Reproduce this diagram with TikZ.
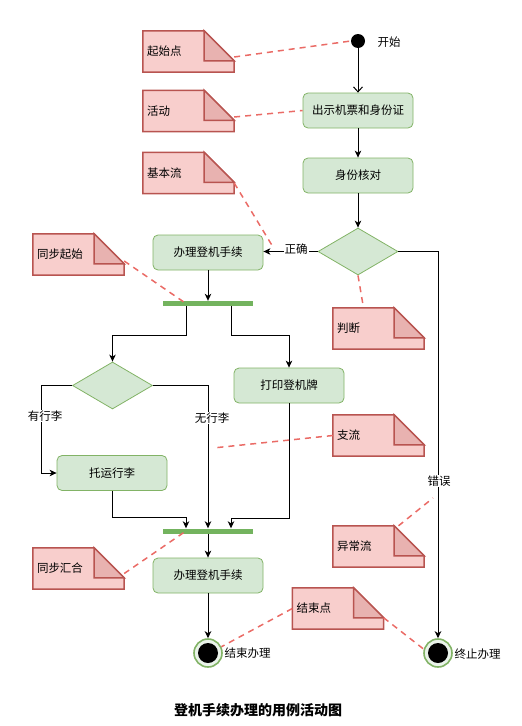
\documentclass[tikz,border=0pt]{standalone}
\usepackage{fontspec}
\setmainfont{Noto Sans CJK SC}
\usetikzlibrary{shapes.geometric,arrows.meta,backgrounds,calc}
\definecolor{gfill}{HTML}{D5E8D4}
\definecolor{gline}{HTML}{82B366}
\definecolor{nfill}{HTML}{F8CECC}
\definecolor{nline}{HTML}{B85450}
\definecolor{nfold}{HTML}{E8B2B0}
\definecolor{dline}{HTML}{EA6B66}
\definecolor{barc}{HTML}{73B35E}
\begin{document}
\begin{tikzpicture}[x=1pt,y=-1pt,
  font=\fontsize{11.5pt}{13pt}\selectfont,
  act/.style={rectangle, rounded corners=5pt, draw=gline, line width=0.8pt, fill=gfill, minimum width=110pt, minimum height=35pt, inner sep=0pt},
  dec/.style={diamond, draw=gline, line width=0.8pt, fill=gfill, minimum width=80pt, minimum height=47pt, inner sep=0pt},
  syncbar/.style={rectangle, fill=barc, minimum width=90pt, minimum height=5pt, inner sep=0pt},
  note/.style={rectangle, minimum width=91pt, minimum height=41pt, inner sep=0pt, text width=83pt, align=left},
  flow/.style={draw=black, line width=1pt, -{Stealth[length=7pt,width=6.5pt,inset=2pt]}},
  openflow/.style={draw=black, line width=1pt, -{Straight Barb[length=5pt,width=9pt]}},
  lbl/.style={fill=white, inner sep=1pt},
  endnode/.style={circle, draw=gline, line width=1.6pt, fill=gfill!50, minimum size=28pt, inner sep=0pt},
  notelink/.style={draw=dline, line width=1.5pt, dash pattern=on 6pt off 5pt},
]
\useasboundingbox (0,0) rectangle (522,726);

% main nodes
\node[circle, fill=black, minimum size=14pt, inner sep=0pt] (start) at (358,41) {};
\node[anchor=west] (startlbl) at (374,42) {开始};
\node[act] (box1) at (358,110.5) {出示机票和身份证};
\node[act] (box2) at (358,175.5) {身份核对};
\node[dec] (dec1) at (358,251.5) {};
\node[act] (boxA) at (208,252.5) {办理登机手续};
\node[syncbar] (bar1) at (208,303.5) {};
\node[dec] (dec2) at (112.5,385.5) {};
\node[act] (print) at (289,385.5) {打印登机牌};
\node[act] (check) at (112,473) {托运行李};
\node[syncbar] (bar2) at (208,531) {};
\node[act] (boxB) at (208,575.5) {办理登机手续};
\node[endnode] (end1) at (208,653) {};
\node[endnode] (end2) at (438,653) {};
\fill[black] (end1.center) circle (10pt);
\fill[black] (end2.center) circle (10pt);
\node[anchor=west] (end1lbl) at (221,653) {结束办理};
\node[anchor=west] (end2lbl) at (451,654) {终止办理};

% notes
\node[note] (n1) at (188.5,51.5) {起始点};
\node[note] (n2) at (188.5,111) {活动};
\node[note] (n3) at (188.5,173) {基本流};
\node[note] (n4) at (78.5,254.5) {同步起始};
\node[note] (n5) at (378.5,328.5) {判断};
\node[note] (n6) at (378.5,435.5) {支流};
\node[note] (n7) at (378.5,546.5) {异常流};
\node[note] (n8) at (78.5,568.5) {同步汇合};
\node[note] (n9) at (338,608.5) {结束点};

\begin{scope}[on background layer]
  \foreach \n in {n1,n2,n3,n4,n5,n6,n7,n8,n9} {
    \draw[draw=nline, fill=nfill, line width=1.5pt, line join=miter]
      (\n.south west) -- (\n.north west) -- ([xshift=-30pt]\n.north east)
      -- ([yshift=-30pt]\n.north east) -- (\n.south east) -- cycle;
    \draw[draw=nline, fill=nfold, line width=1.5pt]
      ([xshift=-30pt]\n.north east) -- ([xshift=-30pt,yshift=-30pt]\n.north east)
      -- ([yshift=-30pt]\n.north east) -- cycle;
  }
\end{scope}

% labels on flows
\coordinate (okpt) at (296,249);
\coordinate (errpt) at (439,481);

% flows
\draw[openflow] (start.south) -- (box1.north);
\draw[flow] (box1.south) -- (box2.north);
\draw[flow] (box2.south) -- (dec1.north);
\draw[flow] (dec1.west) -- (dec1.west -| boxA.east);
\draw[flow] (dec1.east) -| (end2.north);
\draw[flow] (boxA.south) -- (bar1.north);
\draw[flow] ([xshift=-22pt]bar1.south) -- ++(0,29) -| (dec2.north);
\draw[flow] ([xshift=23pt]bar1.south) -- ++(0,29) -| (print.north);
\draw[flow] (dec2.west) -- ++(-31,0) |- (check.west);
\draw[flow] (dec2.east) -| (bar2.north);
\draw[flow] (check.south) -- ++(0,27) -| ([xshift=-22pt]bar2.north);
\draw[flow] (print.south) -- ++(0,115) -| ([xshift=23pt]bar2.north);
\draw[flow] (bar2.south) -- (boxB.north);
\draw[flow] (boxB.south) -- (end1.north);

\node[lbl] (ok) at (okpt) {正确};
\node[lbl] (err) at (errpt) {错误};
\node[lbl] (withbag) at (45,416) {有行李};
\node[lbl] (nobag) at (212,418) {无行李};

% note links
\coordinate (c3) at (273,247);
\coordinate (c6) at (213,448);
\coordinate (c7) at (433,498);
\draw[notelink] ([yshift=-5.5pt]n1.east) -- (start.west);
\draw[notelink] ([yshift=-6pt]n2.east) -- (box1.west);
\draw[notelink] ([yshift=-10pt]n3.east) -- (c3);
\draw[notelink] ([yshift=-6.5pt]n4.east) -- ([xshift=-22pt]bar1.center);
\draw[notelink] (dec1.south) -- ([xshift=-15pt]n5.north);
\draw[notelink] (n6.west) -- (c6);
\draw[notelink] ([xshift=20pt]n7.north) -- (c7);
\draw[notelink] ([yshift=-5pt]n8.east) -- ([xshift=-22pt]bar2.center);
\draw[notelink] (n9.west) -- (end1.25);
\draw[notelink] ([yshift=-30pt]n9.north east) -- (end2.165);

\node[font=\bfseries\fontsize{14pt}{16pt}\selectfont] (title) at (258,710) {登机手续办理的用例活动图};
\end{tikzpicture}
\end{document}
